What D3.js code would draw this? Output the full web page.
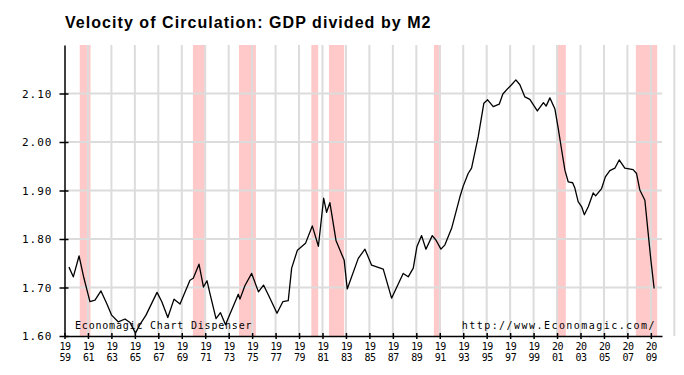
<!DOCTYPE html>
<html>
<head>
<meta charset="utf-8">
<script src="https://cdn.jsdelivr.net/npm/d3@7"></script>
<style>
  body { margin: 0; background: #fff; }
  svg { display: block; }
  .mono { font-family: "DejaVu Sans Mono", "Liberation Mono", monospace; fill: #000; }
</style>
</head>
<body>
<svg id="chart" width="684" height="375"></svg>
<script>
// ── Data ────────────────────────────────────────────────────────────────────
const years = [
  1959.38, 1959.75, 1960.24, 1960.66, 1961.17, 1961.60, 1962.11, 1962.60, 1963.02, 1963.59,
  1964.16, 1964.58, 1965.05, 1965.44, 1965.95, 1966.29, 1966.89, 1967.29, 1967.81, 1968.34,
  1968.85, 1969.70, 1969.98, 1970.47, 1970.85, 1971.15, 1971.40, 1971.92, 1972.30, 1972.73,
  1973.02, 1973.58, 1973.82, 1973.96, 1974.39, 1974.96, 1975.54, 1975.97, 1976.52, 1977.12,
  1977.63, 1978.08, 1978.37, 1978.86, 1979.55, 1980.13, 1980.65, 1981.10, 1981.35, 1981.63,
  1982.15, 1982.85, 1983.11, 1984.05, 1984.62, 1985.19, 1986.18, 1986.89, 1987.88, 1988.31,
  1988.74, 1989.05, 1989.45, 1989.82, 1990.36, 1990.67, 1991.10, 1991.44, 1992.01, 1992.72,
  1993.00, 1993.42, 1993.71, 1994.28, 1994.76, 1995.08, 1995.56, 1996.07, 1996.38, 1996.83,
  1997.12, 1997.49, 1997.83, 1998.26, 1998.68, 1999.32, 1999.84, 2000.07, 2000.39, 2000.82,
  2001.10, 2001.39, 2001.67, 2001.95, 2002.33, 2002.52, 2002.80, 2003.09, 2003.33, 2003.67,
  2004.08, 2004.29, 2004.80, 2005.12, 2005.50, 2005.93, 2006.30, 2006.78, 2007.49, 2007.78,
  2008.06, 2008.49, 2008.77, 2009.00, 2009.28
];
const velocity = [
  1.742, 1.722, 1.765, 1.719, 1.671, 1.674, 1.693, 1.667, 1.643, 1.629,
  1.635, 1.628, 1.606, 1.624, 1.643, 1.660, 1.690, 1.671, 1.638, 1.676,
  1.666, 1.715, 1.719, 1.748, 1.701, 1.714, 1.688, 1.636, 1.648, 1.623,
  1.640, 1.672, 1.686, 1.676, 1.704, 1.729, 1.691, 1.705, 1.678, 1.647,
  1.671, 1.673, 1.740, 1.777, 1.791, 1.827, 1.785, 1.884, 1.855, 1.875,
  1.797, 1.756, 1.697, 1.760, 1.779, 1.746, 1.738, 1.678, 1.729, 1.722,
  1.740, 1.784, 1.807, 1.779, 1.807, 1.798, 1.779, 1.788, 1.822, 1.887,
  1.909, 1.935, 1.946, 2.011, 2.080, 2.087, 2.073, 2.078, 2.099, 2.111,
  2.118, 2.128, 2.118, 2.093, 2.088, 2.064, 2.081, 2.074, 2.091, 2.068,
  2.028, 1.984, 1.942, 1.918, 1.916, 1.905, 1.877, 1.867, 1.850, 1.867,
  1.895, 1.889, 1.904, 1.928, 1.941, 1.946, 1.963, 1.946, 1.943, 1.935,
  1.901, 1.880, 1.812, 1.757, 1.698
];

// recession shading (NBER), start / end as decimal years
const recStart = [1960.30, 1969.95, 1973.88, 1980.05, 1981.55, 1990.50, 2000.95, 2007.72];
const recEnd   = [1961.22, 1971.03, 1975.32, 1980.63, 1982.85, 1991.10, 2001.75, 2009.54];

const yTicks    = [1.60, 1.70, 1.80, 1.90, 2.00, 2.10];
const tickYears = [1959, 1961, 1963, 1965, 1967, 1969, 1971, 1973, 1975, 1977, 1979, 1981, 1983,
                   1985, 1987, 1989, 1991, 1993, 1995, 1997, 1999, 2001, 2003, 2005, 2007, 2009];
const gridYears = [1961, 1963, 1965, 1967, 1969, 1971, 1973, 1975, 1977, 1979, 1981, 1983, 1985,
                   1987, 1989, 1991, 1993, 1995, 1997, 1999, 2001, 2003, 2005, 2007, 2009, 2011];

// ── Layout ──────────────────────────────────────────────────────────────────
const svg = d3.select("#chart");
const TOP = 45, BOTTOM = 336;

const x = d3.scaleLinear().domain([1959, 2009.95]).range([64.5, 662]);
const y = d3.scaleLinear().domain([1.6, 2.2]).range([BOTTOM, TOP]);

svg.append("rect").attr("width", 684).attr("height", 375).attr("fill", "#fff");

// title
svg.append("text")
  .attr("x", 65).attr("y", 28)
  .attr("font-family", "'Liberation Sans', Arial, sans-serif")
  .attr("font-weight", "bold").attr("font-size", 16).attr("letter-spacing", 1.05)
  .text("Velocity of Circulation: GDP divided by M2");

// recession bands
svg.append("g").selectAll("rect")
  .data(recStart.map((s, i) => [s, recEnd[i]]))
  .join("rect")
  .attr("x", d => x(d[0])).attr("width", d => x(d[1]) - x(d[0]))
  .attr("y", TOP).attr("height", BOTTOM - TOP)
  .attr("fill", "#ffc9c9");

// grid
const grid = svg.append("g").attr("stroke", "#dcdcdc").attr("stroke-width", 2);
grid.selectAll(".gx").data(gridYears).join("line")
  .attr("x1", d => x(d)).attr("x2", d => x(d))
  .attr("y1", TOP).attr("y2", BOTTOM);
grid.selectAll(".gy").data(yTicks.slice(1)).join("line")
  .attr("x1", x(1959)).attr("x2", x.range()[1])
  .attr("y1", d => y(d)).attr("y2", d => y(d));

// series
const line = d3.line().x((d, i) => x(years[i])).y(d => y(d));
svg.append("path").datum(velocity)
  .attr("fill", "none").attr("stroke", "#000").attr("stroke-width", 1.3)
  .attr("stroke-linejoin", "round")
  .attr("d", line);

// ── Axes ────────────────────────────────────────────────────────────────────
const yAxis = svg.append("g").attr("transform", `translate(${x(1959)},0)`)
  .call(d3.axisLeft(y).tickValues(yTicks).tickFormat(d3.format(".2f")).tickSize(5).tickSizeOuter(0).tickPadding(7));
yAxis.select(".domain").attr("stroke-width", 1.5);
yAxis.selectAll(".tick line").attr("x2", 4).attr("x1", -5).attr("stroke-width", 1.5);
yAxis.selectAll(".tick text")
  .attr("class", "mono").attr("font-size", 11).attr("letter-spacing", 1)
  .attr("font-family", "'DejaVu Sans Mono', monospace");

const xAxis = svg.append("g").attr("transform", `translate(0,${BOTTOM})`)
  .call(d3.axisBottom(x).tickValues(tickYears).tickFormat("").tickSize(3).tickSizeOuter(0));
xAxis.select(".domain").attr("stroke-width", 1.5);
xAxis.selectAll(".tick line").attr("y1", -3).attr("y2", 3).attr("stroke-width", 1.5);
const lbl = xAxis.selectAll(".tick").append("text")
  .attr("class", "mono").attr("font-size", 10).attr("letter-spacing", -0.5)
  .attr("text-anchor", "middle").attr("fill", "#000")
  .attr("font-family", "'DejaVu Sans Mono', monospace");
lbl.append("tspan").attr("x", 0).attr("y", 14).text(d => String(d).slice(0, 2));
lbl.append("tspan").attr("x", 0).attr("y", 25).text(d => String(d).slice(2));

// credits
svg.append("text").attr("class", "mono")
  .attr("x", 75).attr("y", 329).attr("font-size", 10).attr("letter-spacing", 0.8)
  .text("Economagic Chart Dispenser");
svg.append("text").attr("class", "mono")
  .attr("x", 656).attr("y", 329).attr("font-size", 10).attr("letter-spacing", 1.45)
  .attr("text-anchor", "end")
  .text("http://www.Economagic.com/");
</script>
</body>
</html>
